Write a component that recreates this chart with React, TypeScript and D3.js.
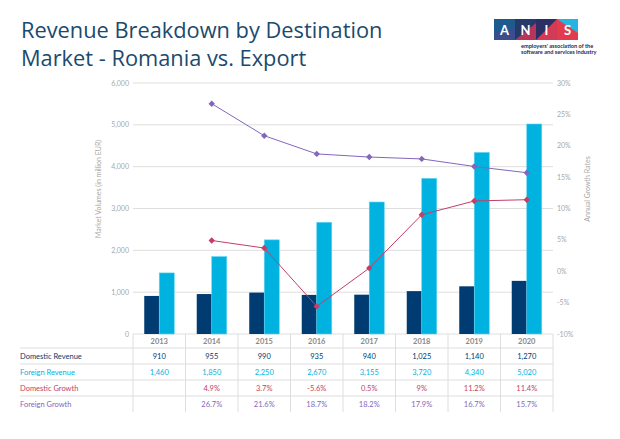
import * as d3 from 'd3';

// chart data
const years = ['2013', '2014', '2015', '2016', '2017', '2018', '2019', '2020'];
const domesticRevenue = [910, 955, 990, 935, 940, 1025, 1140, 1270];
const foreignRevenue = [1460, 1850, 2250, 2670, 3155, 3720, 4340, 5020];
const domesticGrowth: (number | null)[] = [null, 4.9, 3.7, -5.6, 0.5, 9, 11.2, 11.4];
const foreignGrowth: (number | null)[] = [null, 26.7, 21.6, 18.7, 18.2, 17.9, 16.7, 15.7];
const leftTicks = [0, 1000, 2000, 3000, 4000, 5000, 6000];
const rightTicks = [-10, -5, 0, 5, 10, 15, 20, 25, 30];

const W = 620;
const H = 439;
const FONT = 'Lato, "Noto Sans", sans-serif';

const C = {
  domestic: '#003b71',
  foreign: '#00b2df',
  dGrowth: '#c53e65',
  fGrowth: '#8466bd',
  grid: '#dedede',
  tick: '#a8a8a8',
  title: '#1b4a6e',
};

function App() {
  const x = d3.scaleBand<string>().domain(years).range([133, 553]).padding(0);
  const y = d3.scaleLinear().domain([0, 6000]).range([334, 83]);
  const y2 = d3.scaleLinear().domain([-10, 30]).range([334, 83]);
  const cx = (yr: string) => (x(yr) ?? 0) + x.bandwidth() / 2;
  const barW = 15;

  const growthLine = d3
    .line<[string, number | null]>()
    .defined((d) => d[1] !== null)
    .x((d) => cx(d[0]))
    .y((d) => y2(d[1] as number));

  const marker = d3.symbol().type(d3.symbolDiamond2).size(26);

  const rows = [
    { label: 'Domestic Revenue', color: C.domestic, values: domesticRevenue.map((v) => d3.format(',')(v)) },
    { label: 'Foreign Revenue', color: C.foreign, values: foreignRevenue.map((v) => d3.format(',')(v)) },
    { label: 'Domestic Growth', color: C.dGrowth, values: domesticGrowth.map((v) => (v === null ? '' : `${v}%`)) },
    { label: 'Foreign Growth', color: C.fGrowth, values: foreignGrowth.map((v) => (v === null ? '' : `${v}%`)) },
  ];
  const headerY = 341;
  const rowH = 16;
  const firstRowLine = 348;

  return (
    <svg
      width={W}
      height={H}
      style={{ position: 'fixed', left: 0, top: 0, background: '#fff' }}
      fontFamily={FONT}
    >
      {/* title */}
      <text x={21} y={37.5} fontSize={21.8} fill={C.title} fontFamily='"Open Sans", Lato, sans-serif'>
        Revenue Breakdown by Destination
      </text>
      <text x={21} y={66} fontSize={21.8} fill={C.title} fontFamily='"Open Sans", Lato, sans-serif'>
        Market - Romania vs. Export
      </text>

      {/* logo */}
      <g transform="translate(494,19)">
        <rect x={0} y={0} width={21} height={21} fill="#1d5a8e" />
        <path d="M0,14 L21,9 L21,21 L0,21 Z" fill="#3b4d8c" />
        <rect x={21} y={0} width={21} height={21} fill="#233a6b" />
        <path d="M21,21 L42,4 L42,21 Z" fill="#b8345a" />
        <rect x={42} y={0} width={21} height={21} fill="#2a2f64" />
        <path d="M42,21 L63,0 L63,21 Z" fill="#d33a55" />
        <rect x={63} y={0} width={21} height={21} fill="#e23b4e" />
        <path d="M63,0 L84,0 L84,14 Z" fill="#27b4e0" />
        {['A', 'N', 'I', 'S'].map((l, i) => (
          <text key={l} x={i * 21 + 10.5} y={15.5} textAnchor="middle" fontSize={13} fontWeight={700} fill="#fff">
            {l}
          </text>
        ))}
        <text x={27} y={28.5} fontSize={5.6} fontWeight={700} fill="#1d2b4f">
          employers' association of the
        </text>
        <text x={27} y={35} fontSize={5.6} fontWeight={700} fill="#1d2b4f">
          software and services industry
        </text>
      </g>

      {/* gridlines */}
      {leftTicks.map((t) => (
        <line key={t} x1={133} x2={553} y1={y(t)} y2={y(t)} stroke={C.grid} strokeWidth={1} />
      ))}
      {leftTicks.map((t) => (
        <text key={t} x={129} y={y(t) + 2.5} fontSize={7} textAnchor="end" fill={C.tick}>
          {d3.format(',')(t)}
        </text>
      ))}
      {rightTicks.map((t) => (
        <text key={t} x={557} y={y2(t) + 2.5} fontSize={7} fill={C.tick}>
          {`${t}%`}
        </text>
      ))}
      <text
        transform={`translate(101,189) rotate(-90)`}
        textAnchor="middle"
        fontSize={7}
        fill={C.tick}
      >
        Market Volumes (in million EUR)
      </text>
      <text
        transform={`translate(590,189) rotate(-90)`}
        textAnchor="middle"
        fontSize={7}
        fill={C.tick}
      >
        Annual Growth Rates
      </text>

      {/* bars */}
      {years.map((yr, i) => (
        <g key={yr}>
          <rect x={cx(yr) - barW} y={y(domesticRevenue[i])} width={barW} height={y(0) - y(domesticRevenue[i])} fill={C.domestic} />
          <rect x={cx(yr)} y={y(foreignRevenue[i])} width={barW} height={y(0) - y(foreignRevenue[i])} fill={C.foreign} stroke="#5fd3f2" strokeWidth={0.6} />
        </g>
      ))}

      {/* growth lines */}
      <path d={growthLine(years.map((yr, i) => [yr, foreignGrowth[i]])) ?? ''} fill="none" stroke={C.fGrowth} strokeWidth={1} />
      <path d={growthLine(years.map((yr, i) => [yr, domesticGrowth[i]])) ?? ''} fill="none" stroke={C.dGrowth} strokeWidth={1} />
      {years.map((yr, i) =>
        foreignGrowth[i] === null ? null : (
          <path key={'f' + yr} d={marker() ?? ''} transform={`translate(${cx(yr)},${y2(foreignGrowth[i] as number)})`} fill={C.fGrowth} />
        )
      )}
      {years.map((yr, i) =>
        domesticGrowth[i] === null ? null : (
          <path key={'d' + yr} d={marker() ?? ''} transform={`translate(${cx(yr)},${y2(domesticGrowth[i] as number)})`} fill={C.dGrowth} />
        )
      )}

      {/* table */}
      {years.map((yr) => (
        <line key={'v' + yr} x1={x(yr)} x2={x(yr)} y1={334} y2={412} stroke={C.grid} />
      ))}
      <line x1={553} x2={553} y1={334} y2={412} stroke={C.grid} />
      {years.map((yr) => (
        <text key={'h' + yr} x={cx(yr)} y={headerY + 2.5} textAnchor="middle" fontSize={7.5} fontWeight={700} fill="#8a8a8a">
          {yr}
        </text>
      ))}
      {rows.map((r, ri) => {
        const top = firstRowLine + ri * rowH;
        return (
          <g key={r.label}>
            <line x1={20} x2={553} y1={top} y2={top} stroke={C.grid} />
            <text x={20} y={top + 11} fontSize={7.5} fill={r.color}>
              {r.label}
            </text>
            {r.values.map((v, i) => (
              <text key={i} x={cx(years[i])} y={top + 11} textAnchor="middle" fontSize={7.5} fill={r.color}>
                {v}
              </text>
            ))}
          </g>
        );
      })}
    </svg>
  );
}

export default App;
